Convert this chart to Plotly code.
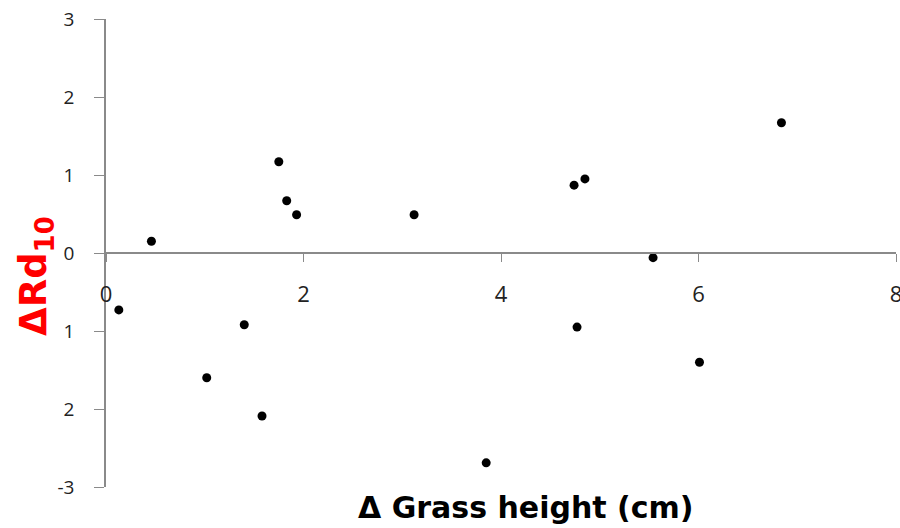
import plotly.graph_objects as go

# Change in grass height (cm) vs change in Rd10
grass_height_change = [0.13, 0.46, 1.02, 1.40, 1.58, 1.75, 1.83, 1.93, 3.12, 3.85,
                       4.74, 4.85, 4.77, 5.54, 6.01, 6.84]
rd10_change = [-0.73, 0.15, -1.60, -0.92, -2.09, 1.17, 0.67, 0.49, 0.49, -2.69,
               0.87, 0.95, -0.95, -0.06, -1.40, 1.67]

x_tick_vals = [0, 2, 4, 6, 8]
x_tick_text = ["0", "2", "4", "6", "8"]
y_tick_vals = [-3, -2, -1, 0, 1, 2, 3]
y_tick_text = ["-3", "2", "1", "0", "1", "2", "3"]

axis_grey = "#8a8a8a"
label_col = "#222222"

fig = go.Figure()
fig.add_trace(go.Scatter(
    x=grass_height_change, y=rd10_change, mode="markers",
    marker=dict(color="black", size=9, line=dict(width=0)),
    showlegend=False, cliponaxis=False,
))

fig.update_layout(
    width=900, height=528,
    margin=dict(l=106, r=4, t=19, b=41, autoexpand=False),
    paper_bgcolor="white", plot_bgcolor="white",
    font=dict(family="Open Sans", color=label_col),
    xaxis=dict(
        range=[0, 8], anchor="free", position=0.5,
        automargin=False,
        showgrid=False, zeroline=False,
        showline=True, linecolor=axis_grey, linewidth=1.5,
        ticks="outside", ticklen=8, tickwidth=1, tickcolor=axis_grey,
        tickvals=x_tick_vals, ticktext=x_tick_text,
        tickfont=dict(size=22, color=label_col, family="Open Sans"),
        ticklabelstandoff=14,
        ticklabeloverflow="allow",
    ),
    yaxis=dict(
        range=[-3, 3],
        automargin=False,
        showgrid=False, zeroline=False,
        showline=True, linecolor=axis_grey, linewidth=1.5,
        ticks="outside", ticklen=10, tickwidth=1, tickcolor=axis_grey,
        tickvals=y_tick_vals, ticktext=y_tick_text,
        tickfont=dict(size=19, color=label_col, family="Open Sans"),
        ticklabelstandoff=16,
    ),
    annotations=[
        dict(text="<b>Δ Grass height (cm)</b>", xref="paper", yref="paper",
             x=(526 - 106) / 790, y=-(507 - 487) / 468,
             xanchor="center", yanchor="middle", showarrow=False,
             font=dict(size=30, color="black", family="DejaVu Sans")),
        dict(text="<b>ΔRd<sub>10</sub></b>", xref="paper", yref="paper",
             x=-(106 - 36) / 790, y=(487 - 276) / 468, textangle=-90,
             xanchor="center", yanchor="middle", showarrow=False,
             font=dict(size=37, color="#ff0000", family="DejaVu Sans")),
    ],
)

fig.write_html("out.html")
